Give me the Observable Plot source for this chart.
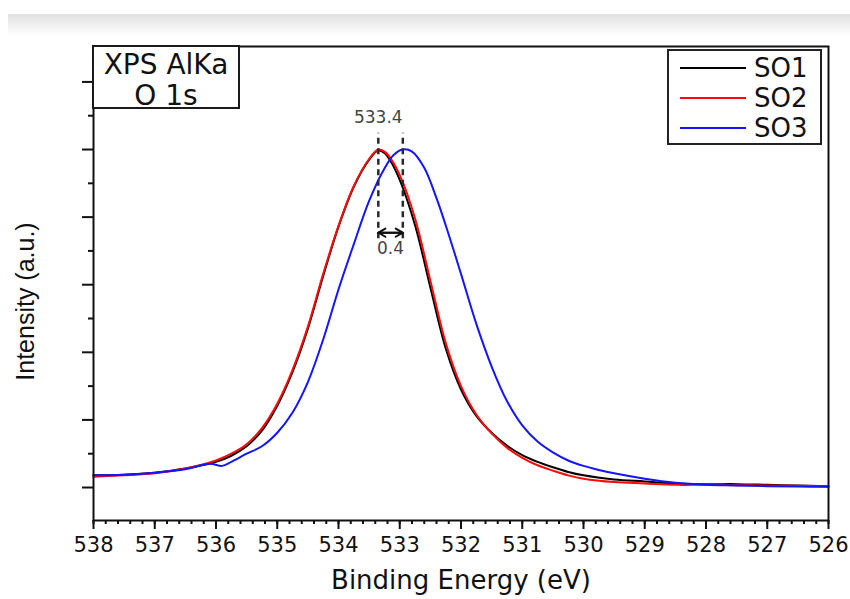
<!DOCTYPE html>
<html>
<head>
<meta charset="utf-8">
<script src="https://cdn.jsdelivr.net/npm/d3@7"></script>
<script src="https://cdn.jsdelivr.net/npm/@observablehq/plot@0.6"></script>
<style>
  html, body { margin: 0; padding: 0; background: #fff; }
  body { width: 850px; height: 599px; position: relative; overflow: hidden; font-family: "DejaVu Sans", sans-serif; color: #111; }
  #chart { position: absolute; left: 0; top: 0; }
  #band { position: absolute; left: 8px; top: 14px; width: 842px; height: 22px; background: linear-gradient(#e1e1e1, #ffffff); }
  #info { position: absolute; left: 92px; top: 45px; width: 144px; height: 58.5px; padding-top: 1.5px; border: 2px solid #1a1a1a; background: #fff; font-size: 28px; line-height: 31px; text-align: center; color: #111; white-space: nowrap; }
  #legend { position: absolute; left: 667px; top: 49px; width: 151px; height: 92px; border: 2px solid #222; background: #fff; }
  .row { position: absolute; left: 11px; height: 30px; display: flex; align-items: center; font-size: 26px; color: #111; }
  .sw { width: 66px; height: 2px; margin-right: 8px; }
</style>
</head>
<body>
<div id="chart"></div>
<div id="band"></div>
<div id="info"></div>
<div id="legend"></div>
<script>
// ---- data ----
const seriesNames = ["SO1", "SO2", "SO3"];
const seriesColors = ["#000000", "#ff0a0a", "#1414ff"];

const energySO1 = [538, 537.5, 537, 536.5, 536, 535.75, 535.5, 535.25, 535, 534.75, 534.5, 534.25, 534, 533.75, 533.5, 533.35, 533.25, 533.15, 533, 532.75, 532.5, 532.25, 532, 531.75, 531.5, 531.25, 531, 530.75, 530.5, 530.25, 530, 529.5, 529, 528.5, 528, 527.5, 527, 526.5, 526];
const intensitySO1 = [0.18, 0.19, 0.22, 0.28, 0.38, 0.47, 0.61, 0.84, 1.21, 1.71, 2.35, 3.13, 3.86, 4.45, 4.85, 4.99, 4.95, 4.83, 4.55, 3.88, 2.96, 2.06, 1.45, 1.06, 0.81, 0.62, 0.48, 0.38, 0.30, 0.23, 0.18, 0.12, 0.09, 0.06, 0.05, 0.05, 0.04, 0.03, 0.02];

const energySO2 = [538, 537.5, 537, 536.5, 536, 535.75, 535.5, 535.25, 535, 534.75, 534.5, 534.25, 534, 533.75, 533.5, 533.35, 533.25, 533.15, 533, 532.75, 532.5, 532.25, 532, 531.75, 531.5, 531.25, 531, 530.75, 530.5, 530.25, 530, 529.5, 529, 528.5, 528, 527.5, 527, 526.5, 526];
const intensitySO2 = [0.16, 0.18, 0.21, 0.28, 0.40, 0.50, 0.64, 0.88, 1.24, 1.74, 2.38, 3.16, 3.87, 4.46, 4.86, 5.00, 4.97, 4.87, 4.62, 3.98, 3.06, 2.14, 1.50, 1.08, 0.80, 0.59, 0.44, 0.33, 0.25, 0.18, 0.13, 0.08, 0.06, 0.04, 0.04, 0.035, 0.03, 0.025, 0.015];

const energySO3 = [538, 537.5, 537, 536.5, 536.1, 535.9, 535.75, 535.5, 535.25, 535, 534.75, 534.5, 534.25, 534, 533.75, 533.5, 533.25, 533.1, 532.95, 532.8, 532.6, 532.4, 532.2, 532, 531.75, 531.5, 531.25, 531, 530.75, 530.5, 530.25, 530, 529.75, 529.5, 529, 528.5, 528, 527.5, 527, 526.5, 526];
const intensitySO3 = [0.18, 0.19, 0.22, 0.27, 0.35, 0.32, 0.38, 0.50, 0.61, 0.81, 1.11, 1.56, 2.19, 2.93, 3.60, 4.24, 4.72, 4.92, 5.00, 4.97, 4.73, 4.28, 3.74, 3.16, 2.42, 1.79, 1.28, 0.92, 0.68, 0.52, 0.40, 0.32, 0.26, 0.21, 0.13, 0.07, 0.04, 0.03, 0.02, 0.015, 0.01];

const xMajorTicks = [538, 537, 536, 535, 534, 533, 532, 531, 530, 529, 528, 527, 526];
const yMajorTicks = [0, 1, 2, 3, 4, 5, 6];
const yMinorTicks = [0.5, 1.5, 2.5, 3.5, 4.5, 5.5];
const infoLines = ["XPS AlKa", "O 1s"];
const peakLabel = "533.4";
const shiftLabel = "0.4";
const xLabel = "Binding Energy (eV)";
const yLabel = "Intensity (a.u.)";

// annotation vertical extents (data units)
const dashTop = 5.24, dashBottom = 3.68, arrowLevel = 3.77, peakLabelLevel = 5.47, shiftLabelLevel = 3.54;

// ---- build ----
const rows = (e, v, s) => e.map((x, i) => ({energy: x, intensity: v[i], series: s}));
const so1 = rows(energySO1, intensitySO1, "SO1");
const so2 = rows(energySO2, intensitySO2, "SO2");
const so3 = rows(energySO3, intensitySO3, "SO3");

const peakOf = (d) => d.reduce((a, b) => (b.intensity > a.intensity ? b : a)).energy;
const p1 = peakOf(so1);
const p3 = peakOf(so3);

const xMinorTicks = d3.range(0, 61).map(i => +(526 + i * 0.2).toFixed(1));

const chart = Plot.plot({
  width: 850,
  height: 599,
  marginLeft: 93,
  marginRight: 22,
  marginTop: 46,
  marginBottom: 79,
  style: {fontFamily: "DejaVu Sans", background: "transparent", color: "#111", overflow: "visible"},
  x: {domain: [538, 526]},
  y: {domain: [-0.488, 6.524]},
  marks: [
    Plot.line(so1, {x: "energy", y: "intensity", stroke: seriesColors[0], strokeWidth: 2, curve: "catmull-rom"}),
    Plot.line(so2, {x: "energy", y: "intensity", stroke: seriesColors[1], strokeWidth: 2, curve: "catmull-rom"}),
    Plot.line(so3, {x: "energy", y: "intensity", stroke: seriesColors[2], strokeWidth: 2, curve: "catmull-rom"}),
    Plot.ruleX([p1, p3], {y1: dashBottom, y2: dashTop, stroke: "#2a2a2a", strokeWidth: 2.5, strokeDasharray: "6,4.5"}),
    Plot.arrow([{a: p1, b: p3}, {a: p3, b: p1}], {x1: "a", x2: "b", y1: arrowLevel, y2: arrowLevel, bend: 0, headLength: 8, stroke: "#111", strokeWidth: 2}),
    Plot.text([peakLabel], {x: p1, y: peakLabelLevel, text: d => d, fontSize: 17, fill: "#444"}),
    Plot.text([shiftLabel], {x: (p1 + p3) / 2, y: shiftLabelLevel, text: d => d, fontSize: 17, fill: "#444"}),
    Plot.axisX({ticks: xMinorTicks, tickSize: 4, tickFormat: () => "", strokeWidth: 2, label: null}),
    Plot.axisX({ticks: xMajorTicks, tickSize: 9, tickPadding: 8, tickFormat: d => String(d), fontSize: 21, strokeWidth: 2, label: null}),
    Plot.axisY({ticks: yMinorTicks, tickSize: 5, tickFormat: () => "", strokeWidth: 2, label: null}),
    Plot.axisY({ticks: yMajorTicks, tickSize: 11, tickFormat: () => "", strokeWidth: 2, label: null}),
    Plot.frame({stroke: "#111", strokeWidth: 2}),
    Plot.text([xLabel], {frameAnchor: "bottom", lineAnchor: "middle", textAnchor: "middle", dy: 60, text: d => d, fontSize: 26, fill: "#111"}),
    Plot.text([yLabel], {frameAnchor: "left", textAnchor: "middle", lineAnchor: "middle", rotate: -90, dx: -68, dy: 18, text: d => d, fontSize: 25, fontFamily: "Liberation Sans", fill: "#111"})
  ]
});
document.getElementById("chart").appendChild(chart);

// info box
const info = document.getElementById("info");
infoLines.forEach(t => { const d = document.createElement("div"); d.textContent = t; info.appendChild(d); });

// legend
const legend = document.getElementById("legend");
seriesNames.forEach((name, i) => {
  const r = document.createElement("div");
  r.className = "row";
  r.style.top = (2 + i * 30) + "px";
  const sw = document.createElement("div");
  sw.className = "sw";
  sw.style.background = seriesColors[i];
  const t = document.createElement("span");
  t.textContent = name;
  r.appendChild(sw); r.appendChild(t);
  legend.appendChild(r);
});
</script>
</body>
</html>
